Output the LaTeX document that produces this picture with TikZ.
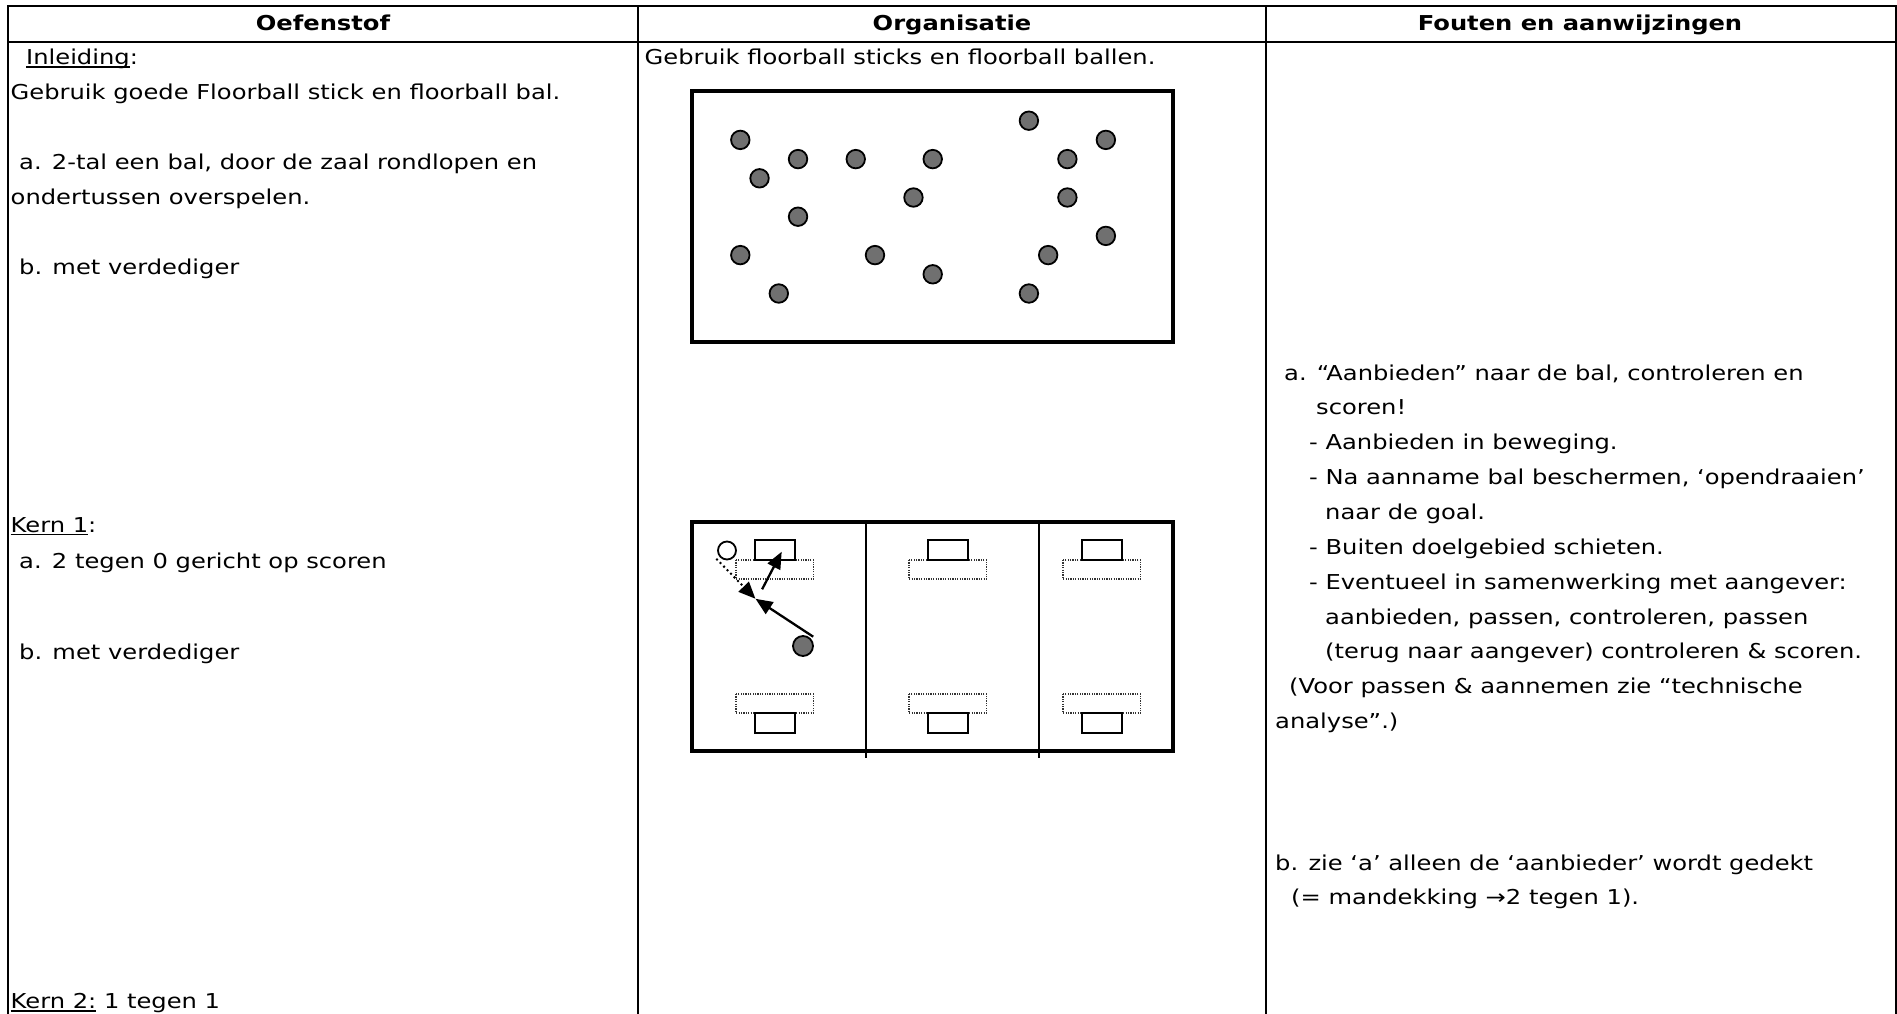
\documentclass[tikz,border=0pt]{standalone}
\usepackage{fontspec}
\setmainfont[FakeStretch=1.18]{DejaVu Sans}
\usetikzlibrary{arrows.meta}
\definecolor{playergray}{RGB}{112,112,112}
\newcommand\ulx[1]{\setbox0=\hbox{#1}\rlap{\rule[-3.2pt]{\wd0}{1.4pt}}\box0\relax}
\begin{document}
\begin{tikzpicture}[x=1pt,y=-1pt,
  txt/.style={anchor=base west, inner sep=0pt, font=\fontsize{20.5}{24}\selectfont},
  hdr/.style={anchor=base, inner sep=0pt, font=\fontsize{20.5}{24}\selectfont\bfseries},
  tbl/.style={line width=2pt},
  fieldbox/.style={draw, line width=4pt},
  divline/.style={line width=1.8pt},
  player/.style={circle, draw, line width=1.8pt, fill=playergray, minimum size=18.5pt, inner sep=0pt},
  openplayer/.style={circle, draw, line width=1.8pt, fill=white, minimum size=18pt, inner sep=0pt},
  goalbox/.style={draw, line width=2pt},
  areabox/.style={draw=black!80, line width=1.2pt, dash pattern=on 1.2pt off 1.2pt},
  runarrow/.style={line width=2.3pt, -{Triangle[length=17pt,width=14pt]}},
  passarrow/.style={line width=2.8pt, line cap=round, dash pattern=on 0pt off 5pt, -{Triangle[length=17pt,width=14pt]}}
]
\useasboundingbox (0,0) rectangle (1897,1014);
\fill[white] (0,0) rectangle (1897,1014);

% table
\draw[tbl] (8,1014) -- (8,6) -- (1895.5,6) -- (1895.5,1014);
\draw[tbl] (8,41.7) -- (1895.5,41.7);
\draw[tbl] (638,6) -- (638,1014);
\draw[tbl] (1266,6) -- (1266,1014);

% headers
\node[hdr] (h1) at (323,30.5) {Oefenstof};
\node[hdr] (h2) at (952,30.5) {Organisatie};
\node[hdr] (h3) at (1580,30.5) {Fouten en aanwijzingen};

% column 1
\node[txt] (c1a) at (26,64.5) {\ulx{Inleiding}:};
\node[txt] (c1b) at (10.5,100) {Gebruik goede Floorball stick en floorball bal.};
\node[txt] (c1c) at (19,169.5) {a. 2-tal een bal, door de zaal rondlopen en};
\node[txt] (c1d) at (10.5,204.5) {ondertussen overspelen.};
\node[txt] (c1e) at (19,274.5) {b. met verdediger};
\node[txt] (c1f) at (10.5,532) {\ulx{Kern 1}:};
\node[txt] (c1g) at (19,568.5) {a. 2 tegen 0 gericht op scoren};
\node[txt] (c1h) at (19,659) {b. met verdediger};
\node[txt] (c1i) at (10.5,1008.5) {\ulx{Kern 2:} 1 tegen 1};

% column 2
\node[txt] (c2a) at (644.5,65) {Gebruik floorball sticks en floorball ballen.};

% column 3
\node[txt] (c3a) at (1284,380) {a. “Aanbieden” naar de bal, controleren en};
\node[txt] (c3b) at (1316,414.9) {scoren!};
\node[txt] (c3c) at (1309,449.7) {- Aanbieden in beweging.};
\node[txt] (c3d) at (1309,484.6) {- Na aanname bal beschermen, ‘opendraaien’};
\node[txt] (c3e) at (1325,519.4) {naar de goal.};
\node[txt] (c3f) at (1309,554.3) {- Buiten doelgebied schieten.};
\node[txt] (c3g) at (1309,589.1) {- Eventueel in samenwerking met aangever:};
\node[txt] (c3h) at (1325,624) {aanbieden, passen, controleren, passen};
\node[txt] (c3i) at (1325,658.8) {(terug naar aangever) controleren \& scoren.};
\node[txt] (c3j) at (1289,693.7) {(Voor passen \& aannemen zie “technische};
\node[txt] (c3k) at (1275,728.5) {analyse”.)};
\node[txt] (c3l) at (1275,870) {b. zie ‘a’ alleen de ‘aanbieder’ wordt gedekt};
\node[txt] (c3m) at (1291,904) {(= mandekking →2 tegen 1).};

% field 1
\draw[fieldbox] (692,91.5) rectangle (1172.5,341.5);
\foreach \k/\j [count=\i] in {0/1,3/2,6/2,10/2,1/3,9/4,3/5,0/7,7/7,10/8,2/9,15/0,19/1,17/2,17/4,19/6,16/7,15/9}
  \node[player] (p\i) at ({740.3+19.24*\k},{120.7+19.2*\j}) {};

% field 2
\draw[fieldbox] (692,522) rectangle (1172.5,751);
\draw[divline] (866,524) -- (866,758);
\draw[divline] (1039,524) -- (1039,758);
\foreach \gx/\ax in {755/736,928/909,1082/1063}{
  \draw[areabox] (\ax,560) rectangle ++(77.5,19);
  \draw[goalbox] (\gx,540) rectangle ++(40,20);
  \draw[areabox] (\ax,694) rectangle ++(77.5,19);
  \draw[goalbox] (\gx,713) rectangle ++(40,20);
}
\node[openplayer] (op) at (727,550.5) {};
\node[player, minimum size=20pt] (gp) at (803,646) {};
\coordinate (meet) at (755.5,598.8);
\coordinate (stick) at (813.2,636.7);
\coordinate (passstart) at (717,559.5);
\coordinate (shotstart) at (762.1,589.3);
\coordinate (shottip) at (781.7,551.7);
\draw[runarrow] (stick) -- (meet);
\draw[runarrow] (shotstart) -- (shottip);
\draw[passarrow] (passstart) -- (meet);
\end{tikzpicture}
\end{document}
